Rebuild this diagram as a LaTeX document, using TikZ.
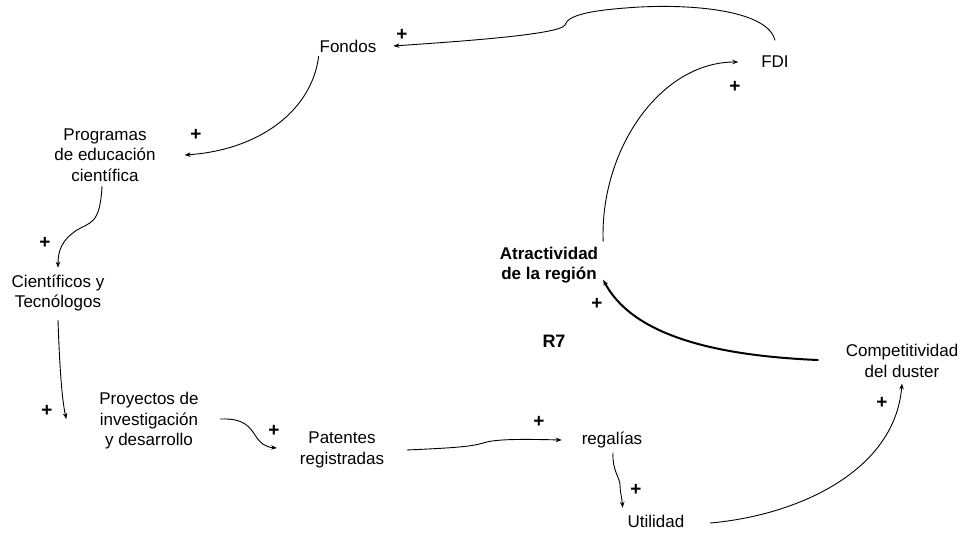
\documentclass[tikz,border=0pt]{standalone}
\usepackage{fontspec}
\setmainfont{Liberation Sans}
\usetikzlibrary{arrows.meta}

\begin{document}
\begin{tikzpicture}[x=1pt,y=-1pt,
  var/.style={font=\fontsize{17}{20.5}\selectfont,align=center,inner sep=1pt,outer sep=0pt},
  link/.style={line width=0.9pt,line cap=round,-{Stealth[length=6pt,width=4.5pt]}},
  sgn/.style={font=\fontsize{19}{19}\selectfont\bfseries,inner sep=0pt}]
\useasboundingbox (0,0) rectangle (964,533);
\node[var] (fondos) at (348,46) {Fondos};
\node[var] (fdi) at (775,62) {FDI};
\node[var] (prog) at (105,155) {Programas\\de educación\\científica};
\node[var] (cient) at (58,293) {Científicos y\\Tecnólogos};
\node[var] (proy) at (149,421) {Proyectos de\\investigación\\y desarrollo};
\node[var] (pat) at (342,450) {Patentes\\registradas};
\node[var] (reg) at (612,440) {regalías};
\node[var] (util) at (656,521) {Utilidad};
\node[var] (comp) at (902,361) {Competitividad\\del duster};
\node[var,font=\fontsize{17}{19.5}\selectfont\bfseries] (atr) at (549,265) {Atractividad\\de la región};
\node[font=\fontsize{18}{18}\selectfont\bfseries] (r7) at (554,341) {R7};
\draw[link] ([yshift=15pt]fdi.north) .. controls (768,12) and (700,4) .. (640,7)
  .. controls (590,10) and (568,15) .. (565,25)
  .. controls (560,35) and (450,42) .. ([xshift=16pt]fondos.east);
\draw[link] ([yshift=-3pt]fondos.south west) .. controls (312,110) and (260,150) .. ([xshift=28pt]prog.east);
\draw[link] ([xshift=-3pt,yshift=-4pt]prog.south) .. controls (100,225) and (90,222) .. (77,230)
  .. controls (62,240) and (58,250) .. ([yshift=6pt]cient.north);
\draw[link] ([yshift=-8pt]cient.south) .. controls (60,380) and (63,405) .. ([xshift=-32pt,yshift=2pt]proy.west);
\draw[link] ([xshift=21pt,yshift=2pt]proy.east) .. controls (245,418) and (250,428) .. (255,435)
  .. controls (260,443) and (265,447) .. ([xshift=-22pt,yshift=2pt]pat.west);
\draw[link] ([xshift=22pt]pat.east) .. controls (450,448) and (470,447) .. (483,443)
  .. controls (495,439) and (520,439) .. ([xshift=-19pt]reg.west);
\draw[link] ([xshift=1pt,yshift=-4pt]reg.south) .. controls (612,470) and (620,478) .. (620,485)
  .. controls (620,492) and (622,498) .. ([xshift=-4pt,yshift=6pt]util.north west);
\draw[link] ([xshift=25pt,yshift=-2pt]util.east) .. controls (800,515) and (895,470) .. ([yshift=-5pt]comp.south);
\draw[link,line width=2pt] ([xshift=-27pt,yshift=1pt]comp.west) .. controls (700,355) and (630,330) .. ([xshift=4pt,yshift=4pt]atr.south east);
\draw[link] ([xshift=4pt,yshift=5pt]atr.north east) .. controls (600,150) and (660,62) .. ([xshift=-22pt]fdi.west);
\node[sgn] (s1) at (402,35) {+};
\node[sgn] (s2) at (196,135) {+};
\node[sgn] (s3) at (45,243) {+};
\node[sgn] (s4) at (47,411) {+};
\node[sgn] (s5) at (274,431) {+};
\node[sgn] (s6) at (539,422) {+};
\node[sgn] (s7) at (636,490) {+};
\node[sgn] (s8) at (882,403) {+};
\node[sgn] (s9) at (597,304) {+};
\node[sgn] (s10) at (735,87) {+};
\end{tikzpicture}
\end{document}
